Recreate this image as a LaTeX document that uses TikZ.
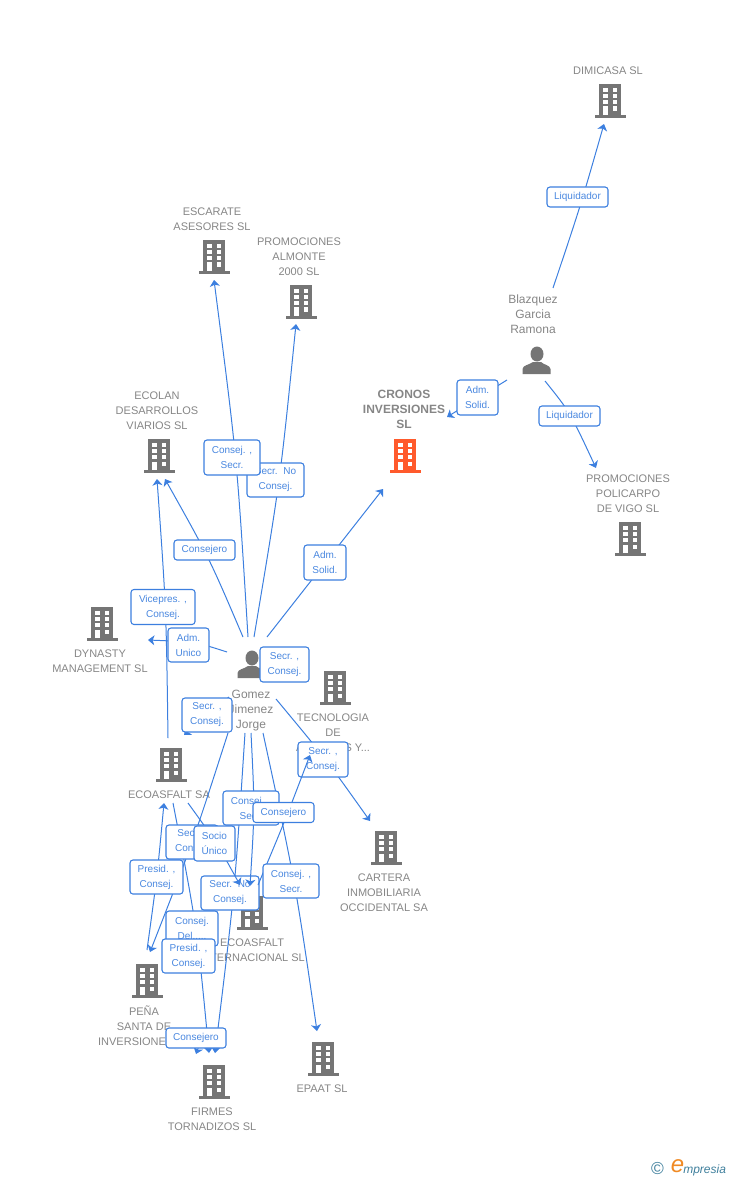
\documentclass[tikz,border=0pt]{standalone}
\usepackage{fontspec}
\setmainfont{Liberation Sans}
\usetikzlibrary{arrows.meta}
\definecolor{conblue}{HTML}{3C7FDF}
\definecolor{lbltext}{HTML}{4A88E0}
\definecolor{icongray}{HTML}{757575}
\definecolor{txtgray}{HTML}{868686}
\definecolor{hotorange}{HTML}{FF5A2C}
\definecolor{logoteal}{HTML}{3F7F9C}
\definecolor{logoorange}{HTML}{F08A24}
\tikzset{
  x=0.75pt,y=-0.75pt,
  conn/.style={draw=conblue,line width=0.75pt,-{Stealth[length=4.8pt,width=7.5pt,inset=1.3pt]}},
  lbl/.style 2 args={draw=conblue,line width=0.8pt,fill=white,rounded corners=2.2pt,text=lbltext,align=center,
    font=\fontsize{7.5}{11.25}\selectfont,inner sep=0pt,minimum width=#1*0.75pt,minimum height=#2*0.75pt},
  ttl/.style={text=txtgray,align=center,inner sep=0pt,yshift=-0.6pt,font=\fontsize{8.25}{11.25}\selectfont},
  ttlb/.style={text=txtgray,align=center,inner sep=0pt,yshift=-0.6pt,font=\bfseries\fontsize{9}{11.25}\selectfont},
  pname/.style={text=txtgray,align=center,inner sep=0pt,yshift=-0.8pt,font=\fontsize{9}{11.25}\selectfont},
  icon/.style={inner sep=0pt,minimum width=24pt,minimum height=26pt},
}
\newcommand\bldg[4]{%
  \node[icon] (#1) at (#2,#3) {};
  \begin{scope}[shift={(#2,#3)}]
    \fill[#4] (-11,-17) rectangle (11,14);
    \fill[#4] (-15.5,14) rectangle (15.5,17);
    \foreach \wy in {-13,-7,-1}{
      \fill[white] (-7,\wy) rectangle (-2.5,\wy+4);
      \fill[white] (2.5,\wy) rectangle (7,\wy+4);
    }
    \fill[white] (2.5,5.5) rectangle (7,10);
    \fill[white] (-7,5.5) rectangle (-2.5,14);
  \end{scope}}
\newcommand\persona[3]{%
  \node[icon] (#1) at (#2,#3) {};
  \begin{scope}[shift={(#2,#3)}]
    \fill[icongray] (1,-7) ellipse (6.5 and 7.5);
    \fill[icongray] (-13.5,13) -- (-13.5,8) .. controls (-13,4) and (-7,4) .. (-3,1) -- (5,1)
      .. controls (8,4) and (14,4) .. (14.5,8) -- (14.5,13) -- cycle;
  \end{scope}}
\begin{document}
\begin{tikzpicture}
\useasboundingbox (0,0) rectangle (728,1180);
% icons
\bldg{dimicasa}{610}{101}{icongray}
\bldg{escarate}{214}{257}{icongray}
\bldg{almonte}{301}{302}{icongray}
\bldg{ecolan}{159}{456}{icongray}
\bldg{cronos}{405}{456}{hotorange}
\bldg{policarpo}{630}{539}{icongray}
\bldg{dynasty}{102}{624}{icongray}
\bldg{tecnologia}{335}{688}{icongray}
\bldg{ecoasfalt}{171}{765}{icongray}
\bldg{cartera}{386}{848}{icongray}
\bldg{interna}{252}{913}{icongray}
\bldg{pena}{147}{981}{icongray}
\bldg{firmes}{214}{1082}{icongray}
\bldg{epaat}{323}{1059}{icongray}
\persona{blazquez}{536}{361}
\persona{gomez}{251}{665}
% names
\node[ttl] (t-dimicasa) at (608,70) {DIMICASA SL};
\node[ttl] (t-escarate) at (212,218.5) {ESCARATE\\ASESORES SL};
\node[ttl] (t-almonte) at (299,256) {PROMOCIONES\\ALMONTE\\2000 SL};
\node[ttl] (t-ecolan) at (157,410) {ECOLAN\\DESARROLLOS\\VIARIOS SL};
\node[ttlb] (t-cronos) at (404,409) {CRONOS\\INVERSIONES\\SL};
\node[pname] (t-blazquez) at (533,313) {Blazquez\\Garcia\\Ramona};
\node[ttl] (t-policarpo) at (628,493) {PROMOCIONES\\POLICARPO\\DE VIGO SL};
\node[ttl] (t-dynasty) at (100,660.5) {DYNASTY\\MANAGEMENT SL};
\node[pname] (t-gomez) at (251,709) {Gomez\\Jimenez\\Jorge};
\node[ttl] (t-tecnologia) at (333,732) {TECNOLOGIA\\DE\\ASFALTOS Y...};
\node[ttl] (t-ecoasfalt) at (169,794) {ECOASFALT SA};
\node[ttl] (t-cartera) at (384,892) {CARTERA\\INMOBILIARIA\\OCCIDENTAL SA};
\node[ttl] (t-interna) at (252,949.5) {ECOASFALT\\INTERNACIONAL SL};
\node[ttl] (t-pena) at (144,1025) {PEÑA\\SANTA DE\\INVERSIONES SL};
\node[ttl] (t-firmes) at (212,1118.5) {FIRMES\\TORNADIZOS SL};
\node[ttl] (t-epaat) at (322,1088) {EPAAT SL};
% connector ends
\coordinate (s1) at (553,288);  \coordinate (e1) at (604,124);
\coordinate (s2) at (507,380);  \coordinate (e2) at (447,417);
\coordinate (s3) at (545,381);  \coordinate (e3) at (596,468);
\coordinate (s4) at (248,637);  \coordinate (e4) at (214,280);
\coordinate (s5) at (254,637);  \coordinate (e5) at (296,324);
\coordinate (s6) at (243,637);  \coordinate (e6) at (165,479);
\coordinate (s7) at (267,637);  \coordinate (e7) at (383,489);
\coordinate (s8) at (227,652);  \coordinate (e8) at (148,640);
\coordinate (s9) at (168,738);  \coordinate (e9) at (157,479);
\coordinate (s10) at (229,697); \coordinate (e10) at (184,735);
\coordinate (s11) at (276,699); \coordinate (e11) at (370,821);
\coordinate (s12) at (263,733); \coordinate (e12) at (317,1031);
\coordinate (s13) at (245,733); \coordinate (e13) at (215,1053);
\coordinate (s14) at (251,733); \coordinate (e14) at (250,886);
\coordinate (s15) at (228,733); \coordinate (e15) at (150,952);
\coordinate (s16) at (147,950); \coordinate (e16) at (164,803);
\coordinate (s17) at (173,803); \coordinate (e17) at (209,1053);
\coordinate (s18) at (188,803); \coordinate (e18) at (240,885);
\coordinate (s19) at (204,1032);\coordinate (e19) at (196,1054);
\coordinate (s20) at (258,885); \coordinate (e20) at (310,755);
% connectors under the labels
\draw[conn] (s1) .. controls (580.5,206) .. (e1);
\draw[conn] (s2) -- (e2);
\draw[conn] (s3) .. controls (569.8,411.8) .. (e3);
\draw[conn] (s4) .. controls (237,458) .. (e4);
\draw[conn] (s5) .. controls (280.3,480) .. (e5);
\draw[conn] (s6) .. controls (209.3,558) .. (e6);
\draw[conn] (s7) -- (e7);
\draw[conn] (s8) .. controls (196,642) .. (e8);
\draw[conn] (s9) .. controls (166.2,608) .. (e9);
\draw[conn] (s10) -- (e10);
\draw[conn] (s11) .. controls (325.7,758.7) .. (e11);
\draw[conn] (s12) .. controls (295.3,882) .. (e12);
\draw[conn] (s13) .. controls (234.7,892) .. (e13);
\draw[conn] (s15) .. controls (193,842) .. (e15);
\draw[conn] (s16) .. controls (157.2,876) .. (e16);
\draw[conn] (s17) .. controls (197,927) .. (e17);
\draw[conn] (s19) -- (e19);
% labels crossed by arrowheads
\node[lbl={58}{34}] (l-secrno2) at (230,893) {Secr.\ \ No\\Consej.};
\node[lbl={50}{35}] (l-secr3) at (323,759.5) {Secr. ,\\Consej.};
% connectors over those labels
\draw[conn] (s14) .. controls (254.8,809) .. (e14);
\draw[conn] (s18) .. controls (216.7,842.7) .. (e18);
\draw[conn] (s20) .. controls (285.3,820) .. (e20);
% labels
\node[lbl={61}{20}] (l-liq1) at (577.5,197) {Liquidador};
\node[lbl={41}{35}] (l-adm1) at (477.5,397.5) {Adm.\\Solid.};
\node[lbl={61}{20}] (l-liq2) at (569.5,416) {Liquidador};
\node[lbl={57}{34}] (l-secrno1) at (275.5,480) {Secr.\ \ No\\Consej.};
\node[lbl={56}{35}] (l-consej1) at (232,457.5) {Consej. ,\\Secr.};
\node[lbl={61}{20}] (l-cons1) at (204.5,550) {Consejero};
\node[lbl={42}{35}] (l-adm2) at (325,562.5) {Adm.\\Solid.};
\node[lbl={64}{35}] (l-vice) at (163,607) {Vicepres. ,\\Consej.};
\node[lbl={41}{34}] (l-admu) at (188.5,645) {Adm.\\Unico};
\node[lbl={49}{35}] (l-secr1) at (284.5,664.5) {Secr. ,\\Consej.};
\node[lbl={50}{34}] (l-secr2) at (207,715) {Secr. ,\\Consej.};
\node[lbl={56}{34}] (l-consej2) at (251,808) {Consej. ,\\Secr.};
\node[lbl={61}{20}] (l-cons2) at (283.5,812.5) {Consejero};
\node[lbl={52}{34}] (l-secr4) at (192,842) {Secr. ,\\Consej.};
\node[lbl={41}{35}] (l-socio) at (214.5,843.5) {Socio\\Único};
\node[lbl={53}{34}] (l-pres1) at (156.5,877) {Presid. ,\\Consej.};
\node[lbl={56}{34}] (l-consej3) at (291,881) {Consej. ,\\Secr.};
\node[lbl={52}{35}] (l-del) at (192,928.5) {Consej.\\Del.....};
\node[lbl={53}{34}] (l-pres2) at (188.5,956) {Presid. ,\\Consej.};
\node[lbl={60}{20}] (l-cons3) at (196,1038) {Consejero};
% logo
\node[inner sep=0pt,text=logoteal,font=\fontsize{13}{13}\selectfont] (logo-c) at (657.5,1168.5) {©};
\node[inner sep=0pt,text=logoorange,font=\fontsize{18}{18}\selectfont] (logo-e) at (677.5,1166) {\textit{e}};
\node[inner sep=0pt,text=logoteal,anchor=west,font=\fontsize{9}{9}\selectfont] (logo-t) at (683,1170) {\textit{mpresia}};
\end{tikzpicture}
\end{document}
